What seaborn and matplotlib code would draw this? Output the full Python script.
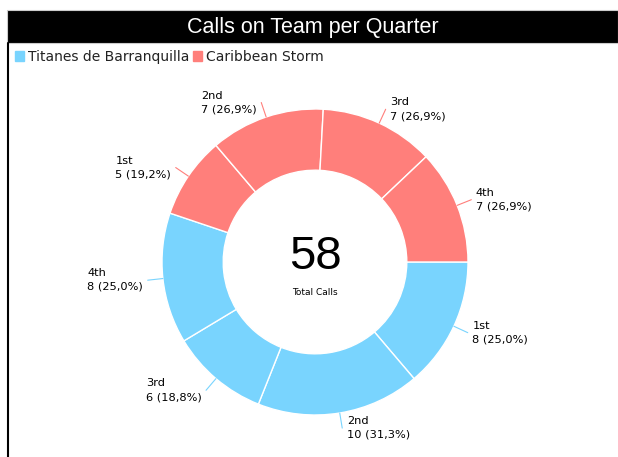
import numpy as np
import matplotlib
matplotlib.use('Agg')
import matplotlib.pyplot as plt
import matplotlib.patches as mpatches
import seaborn as sns

# data
teams = ['Titanes de Barranquilla', 'Caribbean Storm']
quarters = ['1st', '2nd', '3rd', '4th']
titanes_calls = [8, 10, 6, 8]
storm_calls = [5, 7, 7, 7]
team_colors = ['#79d4fe', '#ff7f7b']

sns.set_theme(style='white')
plt.rcParams['font.family'] = ['DejaVu Sans']

W, H = 618, 457
fig = plt.figure(figsize=(W / 100, H / 100), dpi=100)
fig.patch.set_facecolor('white')

# donut centre and radius in pixels
cx, cy, R = 315, 262, 153
ax = fig.add_axes([0, 0, 1, 1])

values = titanes_calls + storm_calls
colors = [team_colors[0]] * len(titanes_calls) + [team_colors[1]] * len(storm_calls)
ax.pie(values, startangle=0, counterclock=False, colors=colors, radius=1,
       wedgeprops=dict(width=0.4, edgecolor='white', linewidth=1))
ax.set_aspect('auto')
ax.set_xlim(-cx / R, (W - cx) / R)
ax.set_ylim(-(H - cy) / R, cy / R)
ax.axis('off')

# outside labels with leader lines
total = sum(values)
team_totals = [sum(titanes_calls), sum(storm_calls)]
cum = 0
for team_i, series in enumerate([titanes_calls, storm_calls]):
    for q, v in zip(quarters, series):
        mid = -np.deg2rad((cum + v / 2) / total * 360)
        cum += v
        c, s = np.cos(mid), np.sin(mid)
        ax.plot([c, 1.1 * c], [s, 1.1 * s], color=team_colors[team_i], lw=0.8)
        # round half up, like the reference
        p = np.floor(v / team_totals[team_i] * 1000 + 0.5) / 10
        pct = f'{p:.1f}'.replace('.', ',')
        ha = 'left' if c >= 0 else 'right'
        dx = 0.03 if c >= 0 else -0.03
        ax.text(1.1 * c + dx, 1.1 * s, f'{q}\n{v} ({pct}%)', ha=ha, va='center',
                multialignment='left', fontsize=8.2, color='black', linespacing=1.45)

# centre total
ax.text(0, 0.03, str(total), ha='center', va='center', fontsize=34, color='black',
        family='Liberation Sans')
ax.text(0, -0.2, 'Total Calls', ha='center', va='center', fontsize=6.5, color='black')

# title bar and left border
fig.patches.append(mpatches.Rectangle((7 / W, 1 - 43 / H), 1 - 7 / W, 33 / H,
                                      transform=fig.transFigure, facecolor='black',
                                      edgecolor='#cccccc', lw=0.8))
fig.add_artist(plt.Line2D([7.5 / W, 7.5 / W], [0, 1 - 43 / H], transform=fig.transFigure,
                          color='black', lw=1.5))
fig.text((7 + W) / 2 / W, 1 - 27 / H, 'Calls on Team per Quarter', ha='center', va='center',
         color='white', fontsize=15.5, family='Liberation Sans')

handles = [mpatches.Patch(color=team_colors[i], label=teams[i]) for i in range(2)]
fig.legend(handles=handles, loc='center left', bbox_to_anchor=(15 / W, 1 - 57 / H), ncol=2,
           frameon=False, fontsize=10, handlelength=0.65, handleheight=0.65,
           handletextpad=0.25, columnspacing=0.3, borderpad=0, borderaxespad=0,
           labelcolor='#222222')

fig.savefig('out.png', dpi=100)
